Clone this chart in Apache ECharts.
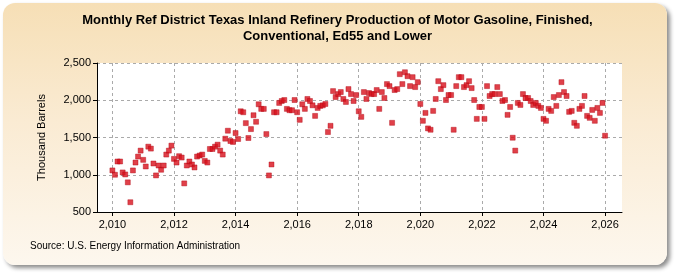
<!DOCTYPE html>
<html>
<head>
  <meta charset="utf-8">
  <script type="text/javascript" src="https://cdn.jsdelivr.net/npm/echarts@6/dist/echarts.min.js"></script>
  <style>
    html, body { margin: 0; padding: 0; background: #fff; }
    #frame {
      position: absolute; left: 3px; top: 3px; width: 664px; height: 262px;
      border-radius: 12px;
      background: linear-gradient(to bottom, #f6dfb6 0%, #faebd3 45%, #fdf7ee 100%);
      box-shadow: 3px 3px 4px rgba(0, 0, 0, 0.45);
    }
    #container { position: absolute; left: 0; top: 0; width: 675px; height: 275px; }
  </style>
</head>
<body>
  <div id="frame"></div>
  <div id="container"></div>
  <script type="text/javascript">
    var titleText = "Monthly Ref District Texas Inland Refinery Production of Motor Gasoline, Finished,\nConventional, Ed55 and Lower";
    var yName = "Thousand Barrels";
    var sourceText = "Source: U.S. Energy Information Administration";
    var startYear = 2010;
    var xTicks = [2010, 2012, 2014, 2016, 2018, 2020, 2022, 2024, 2026];
    var yTicks = [500, 1000, 1500, 2000, 2500];

    // monthly values, one row per year, Jan..Dec
    var v2010 = [1058, 1000, 1178, 1178, 1031, 1004, 898, 631, 1058, 1164, 1244, 1324];
    var v2011 = [1200, 1111, 1377, 1351, 1151, 991, 1124, 1067, 1124, 1271, 1324, 1391];
    var v2012 = [1213, 1164, 1249, 1231, 884, 1124, 1178, 1138, 1098, 1244, 1258, 1271];
    var v2013 = [1186, 1164, 1346, 1346, 1377, 1404, 1324, 1271, 1484, 1591, 1453, 1440];
    var v2014 = [1560, 1480, 1852, 1839, 1693, 1493, 1613, 1799, 1711, 1946, 1884, 1884];
    var v2015 = [1546, 991, 1138, 1839, 1839, 1964, 1990, 2003, 1884, 1866, 1866, 2003];
    var v2016 = [1839, 1737, 1946, 1884, 2017, 1990, 1932, 1790, 1897, 1924, 1932, 1950];
    var v2017 = [1573, 1657, 2123, 2043, 2083, 2110, 2017, 1977, 2150, 2083, 1990, 2070];
    var v2018 = [1852, 1777, 2110, 2017, 2097, 2083, 2083, 2137, 1884, 2110, 2030, 2217];
    var v2019 = [2190, 1697, 2137, 2150, 2350, 2217, 2376, 2323, 2190, 2310, 2177, 2243];
    var v2020 = [1950, 1724, 1830, 1622, 1604, 1857, 2017, 2256, 2150, 2203, 2003, 2070];
    var v2021 = [2070, 1604, 2190, 2310, 2310, 2177, 2203, 2256, 2163, 2003, 1750, 1910];
    var v2022 = [1910, 1750, 2190, 2057, 2083, 2083, 2177, 2083, 1990, 2003, 1804, 1910];
    var v2023 = [1497, 1324, 1964, 1937, 2083, 2030, 2030, 1990, 1937, 1964, 1924, 1897];
    var v2024 = [1750, 1724, 1884, 1857, 2043, 1924, 2070, 2243, 2110, 2057, 1844, 1857];
    var v2025 = [1697, 1657, 1884, 1924, 2057, 1790, 1764, 1870, 1724, 1897, 1830, 1964];
    var v2026 = [1524];

    var years = [v2010, v2011, v2012, v2013, v2014, v2015, v2016, v2017,
      v2018, v2019, v2020, v2021, v2022, v2023, v2024, v2025, v2026];

    var points = [];
    for (var i = 0; i < years.length; i++) {
      for (var m = 0; m < years[i].length; m++) {
        points.push([startYear + i + m / 12, years[i][m]]);
      }
    }

    var chart = echarts.init(document.getElementById("container"), null, { renderer: 'canvas' });
    var font = "'Liberation Sans', Arial, sans-serif";
    var option = {
      backgroundColor: 'transparent',
      animation: false,
      title: {
        text: titleText,
        left: 'center',
        top: 7,
        textStyle: { fontFamily: font, fontSize: 13, fontWeight: 'bold', color: '#000', lineHeight: 16 }
      },
      graphic: [{
        type: 'text', left: 30, top: 241,
        style: { text: sourceText, fontFamily: font, fontSize: 10, fill: '#000' }
      }],
      grid: { left: 97, right: 53, top: 63, bottom: 63, backgroundColor: '#fff', show: true, borderWidth: 0 },
      xAxis: {
        type: 'value', min: 2009.5, max: 2026.55,
        axisLine: { lineStyle: { color: '#000', width: 1 } },
        axisTick: { show: true, length: 4, lineStyle: { color: '#000' }, customValues: xTicks },
        axisLabel: { fontFamily: font, fontSize: 11, color: '#000', margin: 7, customValues: xTicks },
        splitLine: { show: true, lineStyle: { color: '#aaa', type: [3, 3] } }
      },
      yAxis: {
        type: 'value', min: 500, max: 2500, interval: 500,
        name: yName, nameLocation: 'middle', nameGap: 50,
        nameTextStyle: { fontFamily: font, fontSize: 11, color: '#000' },
        axisLine: { show: true, lineStyle: { color: '#000', width: 1 } },
        axisTick: { show: true, length: 4, lineStyle: { color: '#000' } },
        axisLabel: {
          fontFamily: font, fontSize: 11, color: '#000', margin: 6,
          formatter: function (v) { return v.toLocaleString('en-US'); }
        },
        splitLine: { show: true, lineStyle: { color: '#aaa', type: [3, 3] } }
      },
      series: [{
        type: 'scatter',
        symbol: 'rect',
        symbolSize: 5,
        itemStyle: { color: '#d8101c', borderColor: '#b00010', borderWidth: 0.5 },
        data: points
      }]
    };
    chart.setOption(option);
  </script>
</body>
</html>
